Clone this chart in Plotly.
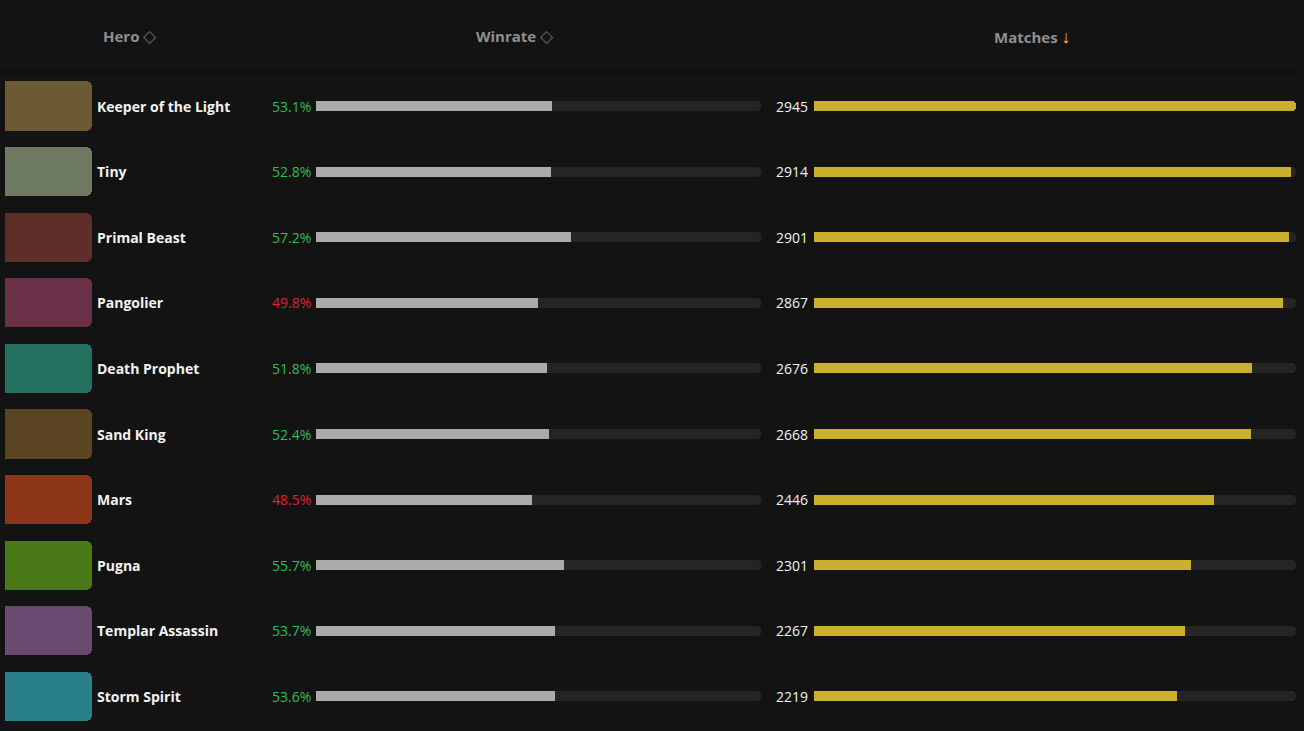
import plotly.graph_objects as go

heroes = ['Keeper of the Light', 'Tiny', 'Primal Beast', 'Pangolier', 'Death Prophet',
          'Sand King', 'Mars', 'Pugna', 'Templar Assassin', 'Storm Spirit']
winrate = [53.1, 52.8, 57.2, 49.8, 51.8, 52.4, 48.5, 55.7, 53.7, 53.6]
matches = [2945, 2914, 2901, 2867, 2676, 2668, 2446, 2301, 2267, 2219]
# stand-ins for the portraits (no images offline)
portrait_colors = ['#6b5a32', '#6f7a62', '#5e2e28', '#6a3048', '#24705f',
                   '#5c4522', '#8c3418', '#4a7a18', '#6a4a70', '#2a8088']

W, H = 1304, 731
BG = '#131313'
max_matches = max(matches)

def px_x(p):
    return p / W

fig = go.Figure()

# portraits
fig.add_trace(go.Bar(
    y=heroes, x=[1] * len(heroes), orientation='h', width=0.75,
    marker=dict(color=portrait_colors, cornerradius=6, line=dict(width=0)),
    xaxis='x3', yaxis='y', hoverinfo='skip', showlegend=False))

# winrate track + fill
fig.add_trace(go.Bar(
    y=heroes, x=[100] * len(heroes), orientation='h', width=0.155,
    marker=dict(color='#252525', cornerradius=4, line=dict(width=0)),
    xaxis='x', yaxis='y', hoverinfo='skip', showlegend=False))
fig.add_trace(go.Bar(
    y=heroes, x=winrate, orientation='h', width=0.155,
    marker=dict(color='#ababab', line=dict(width=0)),
    xaxis='x', yaxis='y', showlegend=False,
    hovertemplate='%{y}: %{x:.1f}%<extra></extra>'))

# matches track + fill
fig.add_trace(go.Bar(
    y=heroes, x=[max_matches] * len(heroes), orientation='h', width=0.155,
    marker=dict(color='#252525', cornerradius=4, line=dict(width=0)),
    xaxis='x2', yaxis='y', hoverinfo='skip', showlegend=False))
fig.add_trace(go.Bar(
    y=heroes, x=matches, orientation='h', width=0.155,
    marker=dict(color='#cbb02e', cornerradius=4, line=dict(width=0)),
    xaxis='x2', yaxis='y', showlegend=False,
    hovertemplate='%{y}: %{x}<extra></extra>'))

annotations = []
for h, wr, m in zip(heroes, winrate, matches):
    annotations.append(dict(
        x=px_x(95), y=h, xref='paper', yref='y', xanchor='left', showarrow=False,
        text='<b>' + h + '</b>', font=dict(color='#f2f2f2', size=14)))
    annotations.append(dict(
        x=px_x(313), y=h, xref='paper', yref='y', xanchor='right', showarrow=False,
        text=f'{wr:.1f}%', font=dict(color='#2fbf4f' if wr >= 50 else '#e0202e', size=14)))
    annotations.append(dict(
        x=px_x(774), y=h, xref='paper', yref='y', xanchor='left', showarrow=False,
        text=str(m), font=dict(color='#f2f2f2', size=14)))

hy = 1 - 36 / H
headers = [
    (130, '<b>Hero</b> <span style="color:#6a6a6a;font-size:17px">◇</span>'),
    (515, '<b>Winrate</b> <span style="color:#6a6a6a;font-size:17px">◇</span>'),
    (1032, '<b>Matches</b> <span style="color:#e8c840;font-size:18px"><b>↓</b></span>'),
]
for x, t in headers:
    annotations.append(dict(
        x=px_x(x), y=hy, xref='paper', yref='paper', xanchor='center', yanchor='middle',
        showarrow=False, text=t, font=dict(color='#8f8f8f', size=15)))

shapes = [dict(type='line', xref='paper', yref='paper', x0=0, x1=px_x(1296),
               y0=1 - 72 / H, y1=1 - 72 / H, line=dict(color='#0d0d0d', width=2))]
for i in range(len(heroes) - 1):
    shapes.append(dict(type='line', xref='paper', yref='y', x0=0, x1=px_x(1296),
                       y0=i + 0.5, y1=i + 0.5, line=dict(color='#171717', width=1)))

row_h = 65.6
fig.update_layout(
    width=W, height=H,
    margin=dict(l=0, r=0, t=0, b=0),
    paper_bgcolor=BG, plot_bgcolor=BG,
    barmode='overlay', bargap=0,
    font=dict(family='Open Sans, Noto Sans, sans-serif', color='#f2f2f2'),
    xaxis=dict(domain=[px_x(316), px_x(761)], range=[0, 100], visible=False, fixedrange=True),
    xaxis2=dict(domain=[px_x(814), px_x(1296)], range=[0, max_matches], visible=False, fixedrange=True),
    xaxis3=dict(domain=[px_x(5), px_x(92)], range=[0, 1], visible=False, fixedrange=True),
    yaxis=dict(type='category', categoryorder='array', categoryarray=heroes,
               range=[(H - 106) / row_h, -106 / row_h], visible=False, fixedrange=True),
    annotations=annotations,
    shapes=shapes,
)

fig.write_html('out.html', config={'displayModeBar': False},
               post_script="document.body.style.margin='0';document.body.style.background='#131313';")
